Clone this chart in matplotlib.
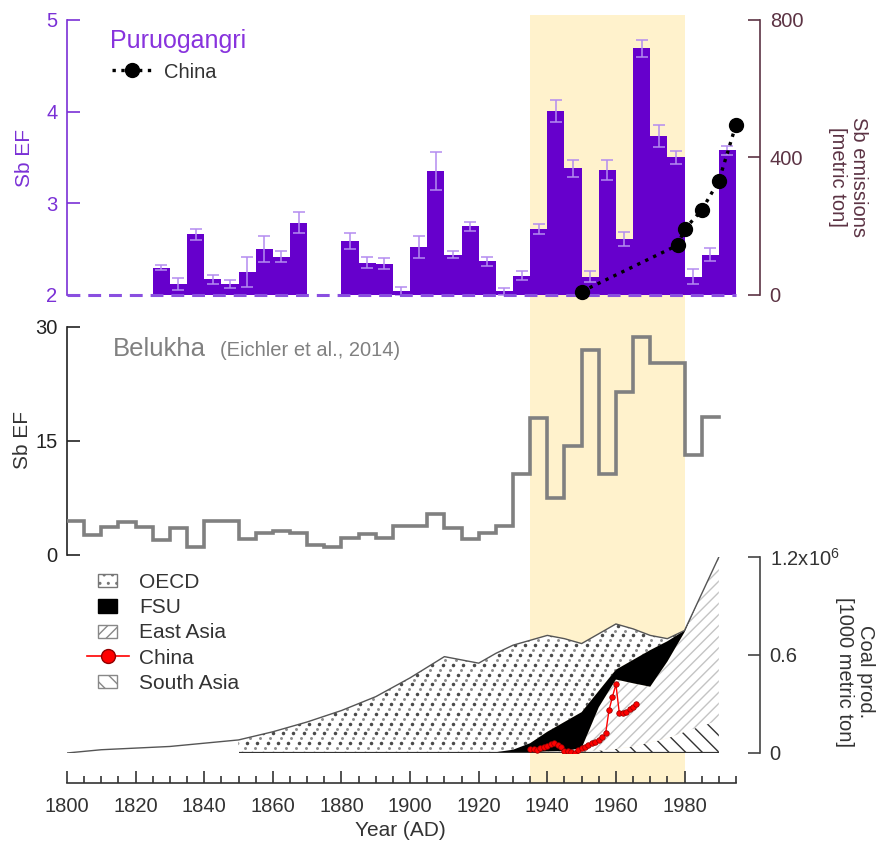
import numpy as np
import matplotlib
matplotlib.use("Agg")
import matplotlib.pyplot as plt
from matplotlib.lines import Line2D
from matplotlib.patches import Patch, Rectangle
from matplotlib.legend_handler import HandlerPatch
from matplotlib.transforms import blended_transform_factory

plt.rcParams['font.family'] = ['Liberation Sans', 'DejaVu Sans']
plt.rcParams['mathtext.fontset'] = 'custom'
plt.rcParams['mathtext.rm'] = 'Liberation Sans'
plt.rcParams['mathtext.it'] = 'Liberation Sans:italic'
plt.rcParams['hatch.linewidth'] = 1.0

# Puruogangri Sb enrichment factor, 5-year bins (start year of bin)
puru_years = [1825, 1830, 1835, 1840, 1845, 1850, 1855, 1860, 1865,
              1880, 1885, 1890, 1895, 1900, 1905, 1910, 1915, 1920, 1925,
              1930, 1935, 1940, 1945, 1950, 1955, 1960, 1965, 1970, 1975,
              1980, 1985, 1990]
puru_ef = [2.30, 2.12, 2.66, 2.17, 2.12, 2.25, 2.50, 2.42, 2.79,
           2.59, 2.35, 2.34, 2.04, 2.52, 3.35, 2.44, 2.75, 2.37, 2.04,
           2.21, 2.72, 4.01, 3.38, 2.20, 3.36, 2.61, 4.69, 3.73, 3.50,
           2.20, 2.44, 3.58]
puru_err = [0.03, 0.06, 0.06, 0.05, 0.04, 0.16, 0.14, 0.06, 0.11,
            0.09, 0.06, 0.06, 0.05, 0.12, 0.21, 0.04, 0.05, 0.05, 0.04,
            0.05, 0.05, 0.12, 0.09, 0.06, 0.11, 0.08, 0.09, 0.12, 0.07,
            0.08, 0.07, 0.05]

# China Sb emissions [metric ton]
sb_years = [1950, 1978, 1980, 1985, 1990, 1995]
sb_emis = [10, 145, 191, 247, 332, 495]

# Belukha Sb EF (Eichler et al., 2014), 5-year steps
bel_years = list(range(1800, 1990, 5))
bel_ef = [4.5, 2.6, 3.7, 4.3, 3.7, 2.0, 3.6, 1.1, 4.5, 4.5,
          2.1, 2.9, 3.2, 2.9, 1.3, 1.0, 2.3, 2.7, 2.2, 3.8,
          3.8, 5.4, 3.5, 2.1, 2.85, 3.8, 10.6, 18.0, 7.5, 14.3,
          27.0, 10.6, 21.4, 28.7, 25.3, 25.3, 13.1, 18.1]
bel_end = 1990

# regional coal production [10^6 x 1000 metric ton]
coal_years = [1800, 1810, 1820, 1830, 1840, 1850, 1860, 1870, 1880, 1890,
              1900, 1910, 1920, 1925, 1930, 1935, 1940, 1945, 1950, 1955,
              1960, 1965, 1970, 1975, 1980, 1985, 1990]
oecd = [0.0, 0.02, 0.03, 0.04, 0.06, 0.08, 0.13, 0.19, 0.26, 0.345,
        0.46, 0.59, 0.55, 0.605, 0.64, 0.63, 0.59, 0.51, 0.42, 0.35,
        0.28, 0.19, 0.09, 0.016, 0.0, 0.0, 0.0]
fsu = [0] * 13 + [0.005, 0.02, 0.055, 0.12, 0.178, 0.22, 0.10,
                  0.06, 0.143, 0.224, 0.124, 0.01, 0.0, 0.0]
east_asia = [0] * 13 + [0.0, 0.0, 0.002, 0.005, 0.006, 0.02, 0.265,
                        0.425, 0.387, 0.341, 0.47, 0.61, 0.81, 1.0]
south_asia = [0] * 13 + [0.0, 0.0, 0.003, 0.005, 0.006, 0.01, 0.015,
                         0.025, 0.04, 0.065, 0.09, 0.13, 0.165, 0.2]
fill_start = 1850

# China coal production
china_years = list(range(1935, 1967))
china_coal = [0.024, 0.022, 0.018, 0.029, 0.039, 0.043, 0.055, 0.059, 0.049,
              0.035, 0.014, 0.012, 0.008, 0.0, 0.018, 0.029, 0.039, 0.049,
              0.059, 0.069, 0.080, 0.096, 0.120, 0.263, 0.345, 0.420, 0.243,
              0.243, 0.250, 0.270, 0.284, 0.298]

shade_years = (1935, 1980)
axis_years = (1800, 1995)

purple = '#6600cc'
purple_txt = '#7a30d6'
maroon = '#5c3344'
dark = '#333333'

W, H = 882, 843
fig = plt.figure(figsize=(W / 100, H / 100), dpi=100)


def box(left, top, right, bottom):
    return [left / W, 1 - bottom / H, (right - left) / W, (bottom - top) / H]


ax1 = fig.add_axes(box(67, 20, 760, 295))
ax2 = fig.add_axes(box(67, 327, 760, 555))
ax3 = fig.add_axes(box(67, 557, 760, 753))
for ax in (ax1, ax2, ax3):
    ax.set_xlim(1800, 2002)
    ax.set_facecolor('none')
    for s in ax.spines.values():
        s.set_visible(False)

# highlighted period across all panels
trans = blended_transform_factory(ax3.transData, fig.transFigure)
fig.add_artist(Rectangle((shade_years[0], 1 - 783 / H), shade_years[1] - shade_years[0],
                         (783 - 15) / H, transform=trans, facecolor='#fff2cc',
                         edgecolor='none', zorder=-1))

# ---- top panel: Puruogangri ----
ax1.bar(puru_years, np.array(puru_ef) - 2, bottom=2, width=5, align='edge',
        color=purple, linewidth=0, zorder=2)
ax1.errorbar(np.array(puru_years) + 2.5, puru_ef, yerr=puru_err, fmt='none',
             ecolor='#b48cf0', elinewidth=1.1, capsize=4, capthick=1.1, zorder=3)
ax1.hlines(2, axis_years[0], axis_years[1], colors='#8a4fe0', linewidth=2.2,
           linestyles=(0, (4.2, 2.6)), clip_on=False, zorder=4)
ax1.set_ylim(2, 5)
ax1.set_yticks([2, 3, 4, 5])
ax1.xaxis.set_visible(False)
ax1.spines['left'].set_visible(True)
ax1.spines['left'].set_color(purple_txt)
ax1.spines['left'].set_linewidth(1.2)
ax1.tick_params(axis='y', direction='in', length=9, width=1.2, color=purple_txt,
                labelcolor=purple_txt, labelsize=14.5, pad=7)

ax1r = ax1.twinx()
ax1r.set_xlim(1800, 2002)
ax1r.set_facecolor('none')
for s in ax1r.spines.values():
    s.set_visible(False)
ax1r.spines['right'].set_visible(True)
ax1r.spines['right'].set_color(maroon)
ax1r.spines['right'].set_linewidth(1.2)
ax1r.plot(sb_years, sb_emis, color='black', linestyle=':', linewidth=2.4,
          marker='o', markersize=10, clip_on=False, zorder=5)
ax1r.set_ylim(0, 800)
ax1r.set_yticks([0, 400, 800])
ax1r.tick_params(axis='y', direction='in', length=9, width=1.2, color=maroon,
                 labelcolor=maroon, labelsize=14.5, pad=7)

fig.text(110 / W, 1 - 48 / H, 'Puruogangri', color='#8833dd', fontsize=18,
         va='baseline', ha='left')
fig.text(25 / W, 1 - 158 / H, 'Sb EF', color=purple_txt, fontsize=15,
         rotation=90, ha='center', va='center')
fig.text(848 / W, 1 - 177 / H, 'Sb emissions\n[metric ton]', color=maroon,
         fontsize=14.5, rotation=270, ha='center', va='center', linespacing=1.15)
ax1.legend(handles=[Line2D([], [], color='black', linestyle=':', linewidth=2.4,
                           marker='o', markersize=10)],
           labels=['China'], loc='center left', frameon=False,
           bbox_to_anchor=(112 / W, 1 - 72 / H), bbox_transform=fig.transFigure,
           borderpad=0, borderaxespad=0, handlelength=2.0, handletextpad=0.6,
           fontsize=14.5, labelcolor=dark)

# ---- middle panel: Belukha ----
ax2.step(bel_years + [bel_end], bel_ef + [bel_ef[-1]], where='post', color='#808080',
         linewidth=2.6, solid_joinstyle='miter', zorder=3)
ax2.set_ylim(0, 30)
ax2.set_yticks([0, 15, 30])
ax2.xaxis.set_visible(False)
ax2.spines['left'].set_visible(True)
ax2.spines['left'].set_color('#222222')
ax2.spines['left'].set_linewidth(1.2)
ax2.tick_params(axis='y', direction='in', length=9, width=1.2, color='#222222',
                labelcolor='#222222', labelsize=14.5, pad=7)
fig.text(113 / W, 1 - 356 / H, 'Belukha', color='#808080', fontsize=18.5,
         va='baseline', ha='left')
fig.text(220 / W, 1 - 356 / H, '(Eichler et al., 2014)', color='#808080', fontsize=14.5,
         va='baseline', ha='left')
fig.text(22 / W, 1 - 440 / H, 'Sb EF', color=dark, fontsize=15,
         rotation=90, ha='center', va='center')

# ---- bottom panel: coal production ----
yrs = np.array(coal_years)
sa_top = np.array(south_asia)
ea_top = sa_top + np.array(east_asia)
fsu_top = ea_top + np.array(fsu)
total = fsu_top + np.array(oecd)
m = yrs >= fill_start
xs = yrs[m]


def band(lower, upper, **kw):
    return ax3.fill(np.r_[xs, xs[::-1]], np.r_[upper[m], lower[m][::-1]],
                    linewidth=0, **kw)[0]


zero = np.zeros_like(sa_top)
band(zero, sa_top, facecolor='white', edgecolor='#333333', hatch='\\\\', zorder=2)
band(sa_top, ea_top, facecolor='white', edgecolor='#c4c4c4', hatch='///', zorder=2)
band(ea_top, fsu_top, facecolor='black', edgecolor='black', zorder=3)
oecd_poly = band(fsu_top, total, facecolor='white', edgecolor='white', zorder=2)

# stippled texture for the OECD area (two staggered dot grids), clipped to its outline
gx, gy = np.meshgrid(np.arange(1800, 2002, 3.0), np.arange(0, 1.2, 0.06))
gx = gx + (np.arange(gx.shape[0])[:, None] % 2) * 1.5
dots_dark = ax3.scatter(gx.ravel(), gy.ravel(), s=6.5, color='#4a4a4a',
                        linewidths=0, zorder=2.5)
dots_light = ax3.scatter(gx.ravel() + 0.75, gy.ravel() + 0.03, s=4.5, color='#8c8c8c',
                         linewidths=0, zorder=2.5)
dots_dark.set_clip_path(oecd_poly)
dots_light.set_clip_path(oecd_poly)

ax3.plot(yrs, total, color='#555555', linewidth=1.0, zorder=4)
ax3.hlines(0, fill_start, coal_years[-1], colors='#333333', linewidth=1.6, zorder=4)
ax3.plot(china_years, china_coal, color='red', linewidth=1.0, marker='o', markersize=4,
         markerfacecolor='red', markeredgecolor='#900000', markeredgewidth=0.5, zorder=5)

ax3.set_ylim(0, 1.2)
ax3.yaxis.tick_right()
ax3.set_yticks([0, 0.6, 1.2])
ax3.set_yticklabels(['0', '0.6', '1.2x10$^6$'])
ax3.spines['right'].set_visible(True)
ax3.spines['right'].set_color('#444444')
ax3.spines['right'].set_linewidth(1.2)
ax3.tick_params(axis='y', direction='in', length=9, width=1.2, color='#444444',
                labelcolor=dark, labelsize=14.5, pad=7)

ax3.spines['bottom'].set_visible(True)
ax3.spines['bottom'].set_position(('outward', 30 * 72 / 100))
ax3.spines['bottom'].set_bounds(*axis_years)
ax3.spines['bottom'].set_color('#333333')
ax3.spines['bottom'].set_linewidth(1.2)
ax3.set_xticks(range(1800, 1981, 20))
ax3.set_xticks(range(1800, axis_years[1] + 1, 5), minor=True)
ax3.tick_params(axis='x', which='major', direction='in', length=9, width=1.2,
                color='#333333', labelcolor=dark, labelsize=14.5, pad=10)
ax3.tick_params(axis='x', which='minor', direction='in', length=5, width=1.2,
                color='#333333')
fig.text(400 / W, 1 - 830 / H, 'Year (AD)', color=dark, fontsize=15,
         ha='center', va='center')
fig.text(855 / W, 1 - 672 / H, 'Coal prod.\n[1000 metric ton]', color=dark,
         fontsize=14.5, rotation=270, ha='center', va='center', linespacing=1.15)


def small_box(legend, orig_handle, xdescent, ydescent, width, height, fontsize):
    return Rectangle((width * 0.27 - xdescent, -ydescent + height * 0.05),
                     width * 0.46, height * 0.9)


leg_handles = [
    Patch(facecolor='white', edgecolor='#777777', hatch='..'),
    Patch(facecolor='black', edgecolor='black'),
    Patch(facecolor='white', edgecolor='#888888', hatch='///'),
    Line2D([], [], color='red', linewidth=1.2, marker='o', markersize=10,
           markerfacecolor='red', markeredgecolor='#900000'),
    Patch(facecolor='white', edgecolor='#888888', hatch='\\\\'),
]
leg_labels = ['OECD', 'FSU', 'East Asia', 'China', 'South Asia']
handler = HandlerPatch(patch_func=small_box)
ax3.legend(handles=leg_handles, labels=leg_labels, loc='upper left', frameon=False,
           bbox_to_anchor=(87 / W, 1 - 573 / H), bbox_transform=fig.transFigure,
           borderpad=0, borderaxespad=0, handlelength=2.0, handleheight=0.7,
           handletextpad=0.5, labelspacing=0.3, fontsize=15, labelcolor=dark,
           handler_map={Patch: handler})

fig.savefig('out.png', dpi=100)
